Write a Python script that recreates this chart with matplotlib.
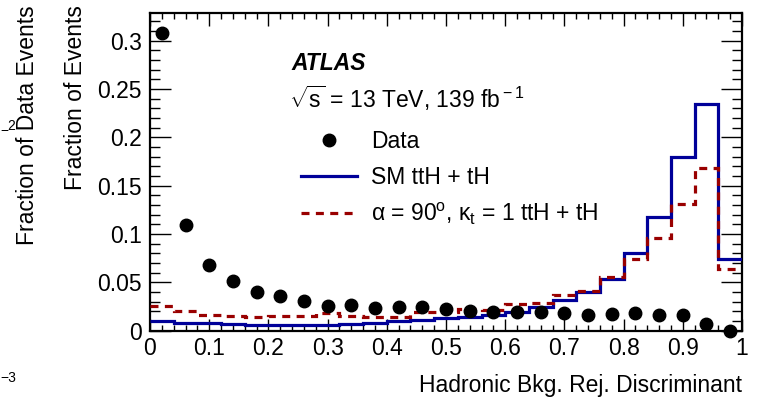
import numpy as np
import matplotlib
matplotlib.use("Agg")
import matplotlib.pyplot as plt
from matplotlib.ticker import MultipleLocator
from matplotlib.lines import Line2D

plt.rcParams['font.family'] = ['Liberation Sans', 'DejaVu Sans']
plt.rcParams['mathtext.fontset'] = 'custom'
plt.rcParams['mathtext.rm'] = 'Liberation Sans'
plt.rcParams['mathtext.it'] = 'Liberation Sans:italic'
plt.rcParams['mathtext.bf'] = 'Liberation Sans:bold'

# ---- data ----
bin_edges = np.linspace(0, 1, 26)
data_vals = [0.308, 0.109, 0.0675, 0.051, 0.0395, 0.036, 0.031, 0.0256, 0.0263,
             0.0236, 0.024, 0.024, 0.0226, 0.0205, 0.0195, 0.0195, 0.0195, 0.0178,
             0.016, 0.0168, 0.0185, 0.016, 0.016, 0.0067, 0.0]
sm_vals = [0.0095, 0.0078, 0.0075, 0.0065, 0.0062, 0.006, 0.006, 0.0058, 0.0072,
           0.0075, 0.0095, 0.011, 0.0125, 0.0143, 0.0165, 0.0195, 0.024, 0.032,
           0.040, 0.053, 0.080, 0.118, 0.180, 0.234, 0.0737]
cp_vals = [0.025, 0.020, 0.0165, 0.0155, 0.0137, 0.0145, 0.015, 0.018, 0.015,
           0.014, 0.014, 0.019, 0.0195, 0.022, 0.021, 0.0274, 0.028, 0.0367,
           0.041, 0.0557, 0.0737, 0.0954, 0.131, 0.1686, 0.064]
x_ticks = [0, 0.1, 0.2, 0.3, 0.4, 0.5, 0.6, 0.7, 0.8, 0.9, 1.0]
x_ticklabels = ["0", "0.1", "0.2", "0.3", "0.4", "0.5", "0.6", "0.7", "0.8", "0.9", "1"]
y_ticks = [0, 0.05, 0.1, 0.15, 0.2, 0.25, 0.3]
y_ticklabels = ["0", "0.05", "0.1", "0.15", "0.2", "0.25", "0.3"]

W, H = 763, 400
fig = plt.figure(figsize=(W / 100, H / 100), dpi=100)
ax = fig.add_axes([150 / W, 1 - 330.5 / H, (742 - 150) / W, (330.5 - 13) / H])

FS = 16.5
blue = '#000099'
red = '#990000'
dash = (0, (2.5, 2.0))

centers = 0.5 * (bin_edges[:-1] + bin_edges[1:])
ax.stairs(sm_vals, bin_edges, baseline=None, color=blue, lw=2.3, zorder=3)
ax.stairs(cp_vals, bin_edges, baseline=None, color=red, lw=2.3, linestyle=dash, zorder=4)
ax.plot(centers, data_vals, 'o', color='black', ms=9, zorder=5, clip_on=False)

ax.set_xlim(0, 1)
ax.set_ylim(0, 0.3287)

ax.set_xticks(x_ticks)
ax.set_xticklabels(x_ticklabels)
ax.set_yticks(y_ticks)
ax.set_yticklabels(y_ticklabels)
ax.xaxis.set_minor_locator(MultipleLocator(0.02))
ax.yaxis.set_minor_locator(MultipleLocator(0.01))
ax.tick_params(axis='both', which='both', direction='in', top=True, right=True,
               labelsize=FS, width=1.0, color='black')
ax.tick_params(axis='x', which='major', length=9, pad=5)
ax.tick_params(axis='x', which='minor', length=4.5)
ax.tick_params(axis='y', which='major', length=15, pad=6)
ax.tick_params(axis='y', which='minor', length=7.5)
for s in ax.spines.values():
    s.set_linewidth(1.6)

ax.set_xlabel('Hadronic Bkg. Rej. Discriminant', fontsize=FS, loc='right', labelpad=10)
fig.text(75 / W, 1 - 5 / H, 'Fraction of Events', rotation=90, fontsize=FS,
         ha='center', va='top')
fig.text(28 / W, 1 - 5 / H, 'Fraction of Data Events', rotation=90, fontsize=FS,
         ha='center', va='top')
fig.text(0 / W, 1 - 131 / H, '\u2212', fontsize=10, ha='left', va='center')
fig.text(7 / W, 1 - 126 / H, '2', fontsize=10, ha='left', va='center')
fig.text(0 / W, 1 - 378 / H, '\u22123', fontsize=10, ha='left', va='center')

# ATLAS label
fig.text(291 / W, 1 - 63 / H, 'ATLAS', fontsize=FS, fontweight='bold', fontstyle='italic',
         ha='left', va='center')
fig.text(289 / W, 1 - 98 / H, r'$\sqrt{\rm s}$ = 13 TeV, 139 fb$^{\rm -1}$', fontsize=FS,
         ha='left', va='center')

h_data = Line2D([], [], marker='o', ls='none', color='black', ms=9)
h_sm = Line2D([], [], color=blue, lw=2.3)
h_cp = Line2D([], [], color=red, lw=2.3, linestyle=dash)
leg = ax.legend([h_data, h_sm, h_cp],
                ['Data', 'SM ttH + tH', '\u03b1 = 90$^{\\rm o}$, \u03ba$_{\\rm t}$ = 1 ttH + tH'],
                loc='upper left', bbox_to_anchor=(301 / W, 1 - 130 / H),
                bbox_transform=fig.transFigure, frameon=False, fontsize=FS,
                handlelength=2.45, handletextpad=0.6, labelspacing=0.55,
                borderpad=0, borderaxespad=0)

fig.savefig('out.png', dpi=100)
